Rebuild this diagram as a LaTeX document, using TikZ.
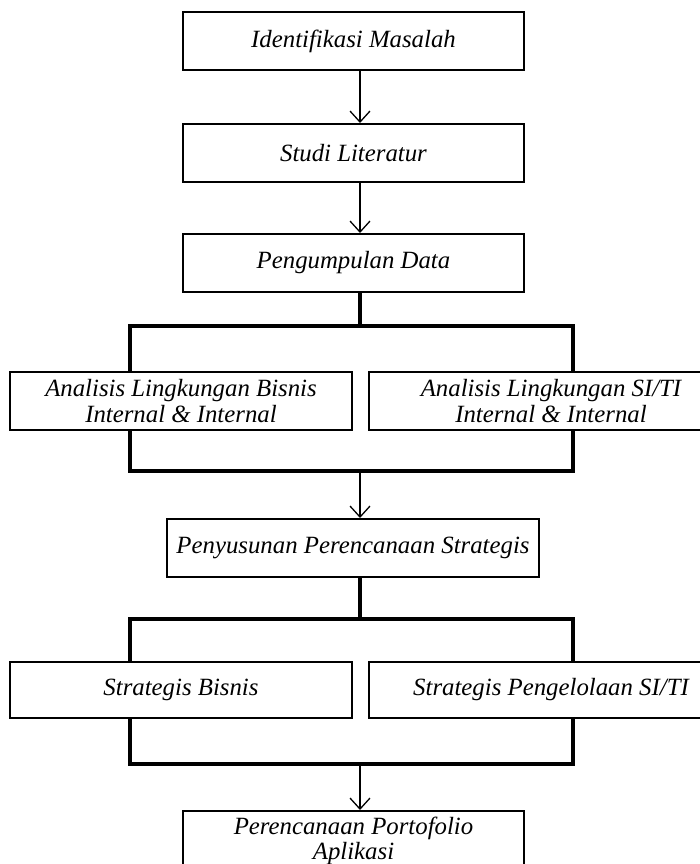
\documentclass[tikz,border=0pt]{standalone}
\usepackage{fontspec}
\setmainfont{Liberation Serif}
\usetikzlibrary{positioning,arrows.meta}

\begin{document}
\begin{tikzpicture}[
    x=1pt, y=1pt,
    node distance=50pt,
    stage/.style={rectangle, draw, fill=white, line width=2pt, minimum width=341pt, minimum height=58pt, align=center, font=\itshape\fontsize{24.8}{25.5}\selectfont},
    wide/.style={stage, minimum width=364pt},
    branch/.style={line width=4pt},
    arrow/.style={-{Straight Barb[length=11pt,width=20pt]}, line width=1.3pt}
]
    \useasboundingbox (0,0) rectangle (700,-864);
    \clip (0,0) rectangle (700,-864);

    \node[stage] (ident) at (353.5,-41) {Identifikasi Masalah};
    \node[stage, below=52pt of ident] (studi) {Studi Literatur};
    \node[stage, below=of studi] (kumpul) {Pengumpulan Data};
    \node[stage, minimum width=342pt] (anBisnis) at (181,-401) {Analisis Lingkungan Bisnis\\Internal \& Internal};
    \node[wide] (anSI) at (551,-401) {Analisis Lingkungan SI/TI\\Internal \& Internal};
    \node[stage, minimum width=372pt] (susun) at (353,-548) {Penyusunan Perencanaan Strategis};
    \node[stage, minimum width=342pt, minimum height=56pt] (stratBisnis) at (181,-690) {Strategis Bisnis};
    \node[wide, minimum height=56pt] (stratSI) at (551,-690) {Strategis Pengelolaan SI/TI};
    \node[stage, minimum height=60pt] (porto) at (353.5,-841) {Perencanaan Portofolio\\Aplikasi};

    \coordinate (forkA) at (360,-326);
    \coordinate (mergeA) at (360,-471);
    \coordinate (forkB) at (360,-619);
    \coordinate (mergeB) at (360,-764);

    \draw[arrow] (ident.south -| forkA) -- (studi.north -| forkA);
    \draw[arrow] (studi.south -| forkA) -- (kumpul.north -| forkA);
    \draw[branch] (kumpul.south -| forkA) -- (forkA);
    \draw[branch] ([xshift=-51pt]anBisnis.north) |- (forkA) -| ([xshift=22pt]anSI.north);
    \draw[branch] ([xshift=-51pt]anBisnis.south) |- (mergeA) -| ([xshift=22pt]anSI.south);
    \draw[arrow] (mergeA) -- (susun.north -| mergeA);
    \draw[branch] (susun.south -| forkB) -- (forkB);
    \draw[branch] ([xshift=-51pt]stratBisnis.north) |- (forkB) -| ([xshift=22pt]stratSI.north);
    \draw[branch] ([xshift=-51pt]stratBisnis.south) |- (mergeB) -| ([xshift=22pt]stratSI.south);
    \draw[arrow] (mergeB) -- (porto.north -| mergeB);
\end{tikzpicture}
\end{document}
